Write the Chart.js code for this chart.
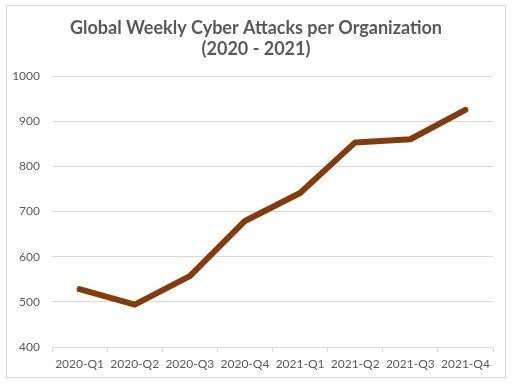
<!DOCTYPE html>
<html>
<head>
<meta charset="utf-8">
<script src="https://cdn.jsdelivr.net/npm/chart.js@4/dist/chart.umd.min.js"></script>
<style>
	body { margin: 0; background: #fff; }
	#wrap { position: absolute; left: 0; top: 0; width: 512px; height: 387px; }
	#frame { position: absolute; left: 6px; top: 5px; width: 498px; height: 371px; border: 1px solid #d9d9d9; pointer-events: none; }
</style>
</head>
<body>
<div id="wrap"><canvas id="plot" width="512" height="387"></canvas></div>
<div id="frame"></div>
<script>
const quarters = ['2020-Q1', '2020-Q2', '2020-Q3', '2020-Q4', '2021-Q1', '2021-Q2', '2021-Q3', '2021-Q4'];
const attacks = [528, 494, 557, 679, 741, 853, 860, 925];
const titleLines = ['Global Weekly Cyber Attacks per Organization', '(2020 - 2021)'];

const gray = '#595959';
const gridGray = '#d9d9d9';
const fontFamily = 'Lato, "Open Sans", sans-serif';

// title centred on the whole frame, not on the plot area
const titlePlugin =
{
	id: 'frameTitle',
	afterDraw: function(chart)
	{
		const c = chart.ctx;
		c.save();
		c.fillStyle = gray;
		c.font = 'bold 18px ' + fontFamily;
		c.textAlign = 'center';
		c.textBaseline = 'middle';
		for (let i = 0; i < titleLines.length; ++i)
			c.fillText(titleLines[i], 256, 28 + i * 21);
		c.restore();
	}
};

const ctx = document.getElementById('plot').getContext('2d');

const plot = new Chart(ctx,
{
	type: 'line',
	data:
	{
		labels: quarters,
		datasets: [{
			data: attacks,
			borderColor: '#843c0c',
			borderWidth: 6,
			borderCapStyle: 'round',
			borderJoinStyle: 'round',
			pointRadius: 0,
			fill: false,
			tension: 0
		}]
	},
	options:
	{
		responsive: false,
		animation: false,
		layout: { padding: { left: 0, right: 19, top: 76, bottom: 0 } },
		plugins:
		{
			legend: { display: false },
			tooltip: { enabled: false },
			title: { display: false }
		},
		scales:
		{
			x:
			{
				offset: true,
				grid: { offset: true, drawOnChartArea: false, drawTicks: true, tickLength: 5, color: gridGray },
				border: { display: true, color: gridGray },
				ticks: { color: gray, font: { family: fontFamily, size: 12 }, padding: 5, maxRotation: 0, autoSkip: false },
				afterFit: function(s) { s.height = 40; }
			},
			y:
			{
				min: 400,
				max: 1000,
				grid: { color: gridGray, drawTicks: false },
				border: { display: false },
				ticks:
				{
					stepSize: 100,
					color: gray,
					font: { family: fontFamily, size: 12 },
					padding: 12,
					callback: function(v) { return String(v); }
				},
				afterFit: function(s) { s.width = 52; }
			}
		}
	},
	plugins: [titlePlugin]
});
</script>
</body>
</html>
